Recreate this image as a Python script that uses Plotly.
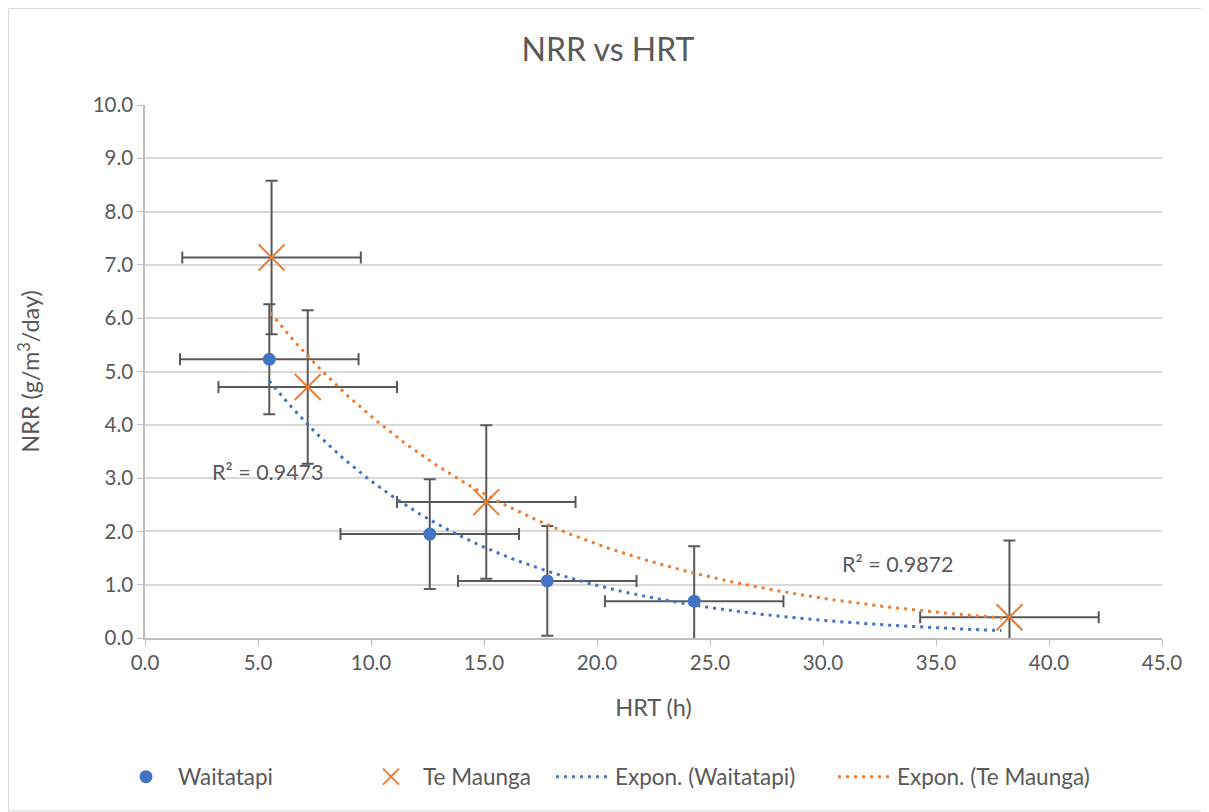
import numpy as np
import plotly.graph_objects as go

# ---- data ----
wai_hrt = [5.5, 12.6, 17.8, 24.3]
wai_nrr = [5.23, 1.95, 1.07, 0.69]
wai_hrt_err = [3.95, 3.95, 3.95, 3.95]
wai_nrr_err = [1.03, 1.03, 1.03, 1.03]

tm_hrt = [5.6, 7.2, 15.1, 38.25]
tm_nrr = [7.14, 4.71, 2.55, 0.39]
tm_hrt_err = [3.95, 3.95, 3.95, 3.95]
tm_nrr_err = [1.44, 1.44, 1.44, 1.44]

# exponential trendlines y = a*exp(b*x) (coefficients)
wai_trend_a, wai_trend_b = 8.81, -0.1095
wai_trend_range = [5.5, 37.9]
tm_trend_a, tm_trend_b = 9.83, -0.086
tm_trend_range = [5.55, 38.2]

wai_r2_label = "R² = 0.9473"
tm_r2_label = "R² = 0.9872"
wai_r2_pos = [5.45, 3.12]
tm_r2_pos = [33.3, 1.39]

x_ticks = [0, 5, 10, 15, 20, 25, 30, 35, 40, 45]
y_ticks = [0, 1, 2, 3, 4, 5, 6, 7, 8, 9, 10]

BLUE = "#4472C4"
ORANGE = "#ED7D31"
GREY = "#595959"
FONT = "Lato"

OFF = 8  # page body margin
W, H = 1209 - OFF, 812 - OFF
L, R, T, B = 145 - OFF, 47, 105 - OFF, 174
pw, ph = W - L - R, H - T - B


def px2paper_x(p):
    return (p - OFF - L) / pw


def px2paper_y(p):
    return (H - B - (p - OFF)) / ph


fig = go.Figure()

fig.add_trace(go.Scatter(
    x=wai_hrt, y=wai_nrr, mode="markers", name="Waitatapi", legend="legend",
    marker=dict(symbol="circle", size=13, color=BLUE),
    error_x=dict(type="data", array=wai_hrt_err, color=GREY, thickness=2, width=6),
    error_y=dict(type="data", array=wai_nrr_err, color=GREY, thickness=2, width=6),
))
fig.add_trace(go.Scatter(
    x=tm_hrt, y=tm_nrr, mode="markers", name="Te Maunga", legend="legend2",
    marker=dict(symbol="x-thin", size=26, color=ORANGE, line=dict(color=ORANGE, width=2)),
    error_x=dict(type="data", array=tm_hrt_err, color=GREY, thickness=2, width=6),
    error_y=dict(type="data", array=tm_nrr_err, color=GREY, thickness=2, width=6),
))

wx = np.linspace(wai_trend_range[0], wai_trend_range[1], 200)
fig.add_trace(go.Scatter(
    x=wx, y=wai_trend_a * np.exp(wai_trend_b * wx), mode="lines", legend="legend3",
    name="Expon. (Waitatapi)", line=dict(color=BLUE, width=3, dash="3px,5px"),
))
tx = np.linspace(tm_trend_range[0], tm_trend_range[1], 200)
fig.add_trace(go.Scatter(
    x=tx, y=tm_trend_a * np.exp(tm_trend_b * tx), mode="lines", legend="legend4",
    name="Expon. (Te Maunga)", line=dict(color=ORANGE, width=3, dash="3px,5px"),
))

fig.add_annotation(x=wai_r2_pos[0], y=wai_r2_pos[1], text=wai_r2_label, showarrow=False,
                   font=dict(family=FONT, size=21.5, color=GREY))
fig.add_annotation(x=tm_r2_pos[0], y=tm_r2_pos[1], text=tm_r2_label, showarrow=False,
                   font=dict(family=FONT, size=21.5, color=GREY))

# outer chart border
fig.add_shape(type="rect", xref="paper", yref="paper",
              x0=px2paper_x(8.5), x1=px2paper_x(1208), y0=px2paper_y(811), y1=px2paper_y(8.5),
              line=dict(color="#d9d9d9", width=1), layer="below")

leg_common = dict(orientation="h", xanchor="left", yanchor="middle",
                  y=px2paper_y(777), itemwidth=54, borderwidth=0,
                  bgcolor="rgba(0,0,0,0)",
                  font=dict(family=FONT, size=22.5, color=GREY))

fig.update_layout(
    width=W, height=H,
    margin=dict(l=L, r=R, t=T, b=B),
    paper_bgcolor="white", plot_bgcolor="white",
    font=dict(family=FONT, color=GREY, size=20),
    title=dict(text="NRR vs HRT", x=(608 - OFF) / W, xref="container", xanchor="center",
               y=1 - (50 - OFF) / H, yanchor="middle",
               font=dict(family=FONT, size=32, color=GREY)),
    showlegend=True,
    legend=dict(x=px2paper_x(114), **leg_common),
    legend2=dict(x=px2paper_x(359), **leg_common),
    legend3=dict(x=px2paper_x(551), **leg_common),
    legend4=dict(x=px2paper_x(833), **leg_common),
    xaxis=dict(range=[0, 45], tickvals=x_ticks, tickformat=".1f",
               showgrid=False, zeroline=False,
               showline=True, linecolor="#bfbfbf", linewidth=1.5,
               ticks="outside", ticklen=6, tickcolor="#bfbfbf",
               tickfont=dict(family=FONT, size=20.5, color=GREY),
               title=dict(text="HRT (h)", font=dict(family=FONT, size=23.5, color=GREY), standoff=26)),
    yaxis=dict(range=[0, 10], tickvals=y_ticks, tickformat=".1f",
               showgrid=True, gridcolor="#d9d9d9", gridwidth=1.5, zeroline=False,
               showline=True, linecolor="#bfbfbf", linewidth=1.5,
               ticks="outside", ticklen=6, tickcolor="#bfbfbf",
               tickfont=dict(family=FONT, size=20.5, color=GREY),
               title=dict(text="NRR (g/m<sup>3</sup>/day)", font=dict(family=FONT, size=23.5, color=GREY), standoff=46)),
)

fig.write_html("out.html")
